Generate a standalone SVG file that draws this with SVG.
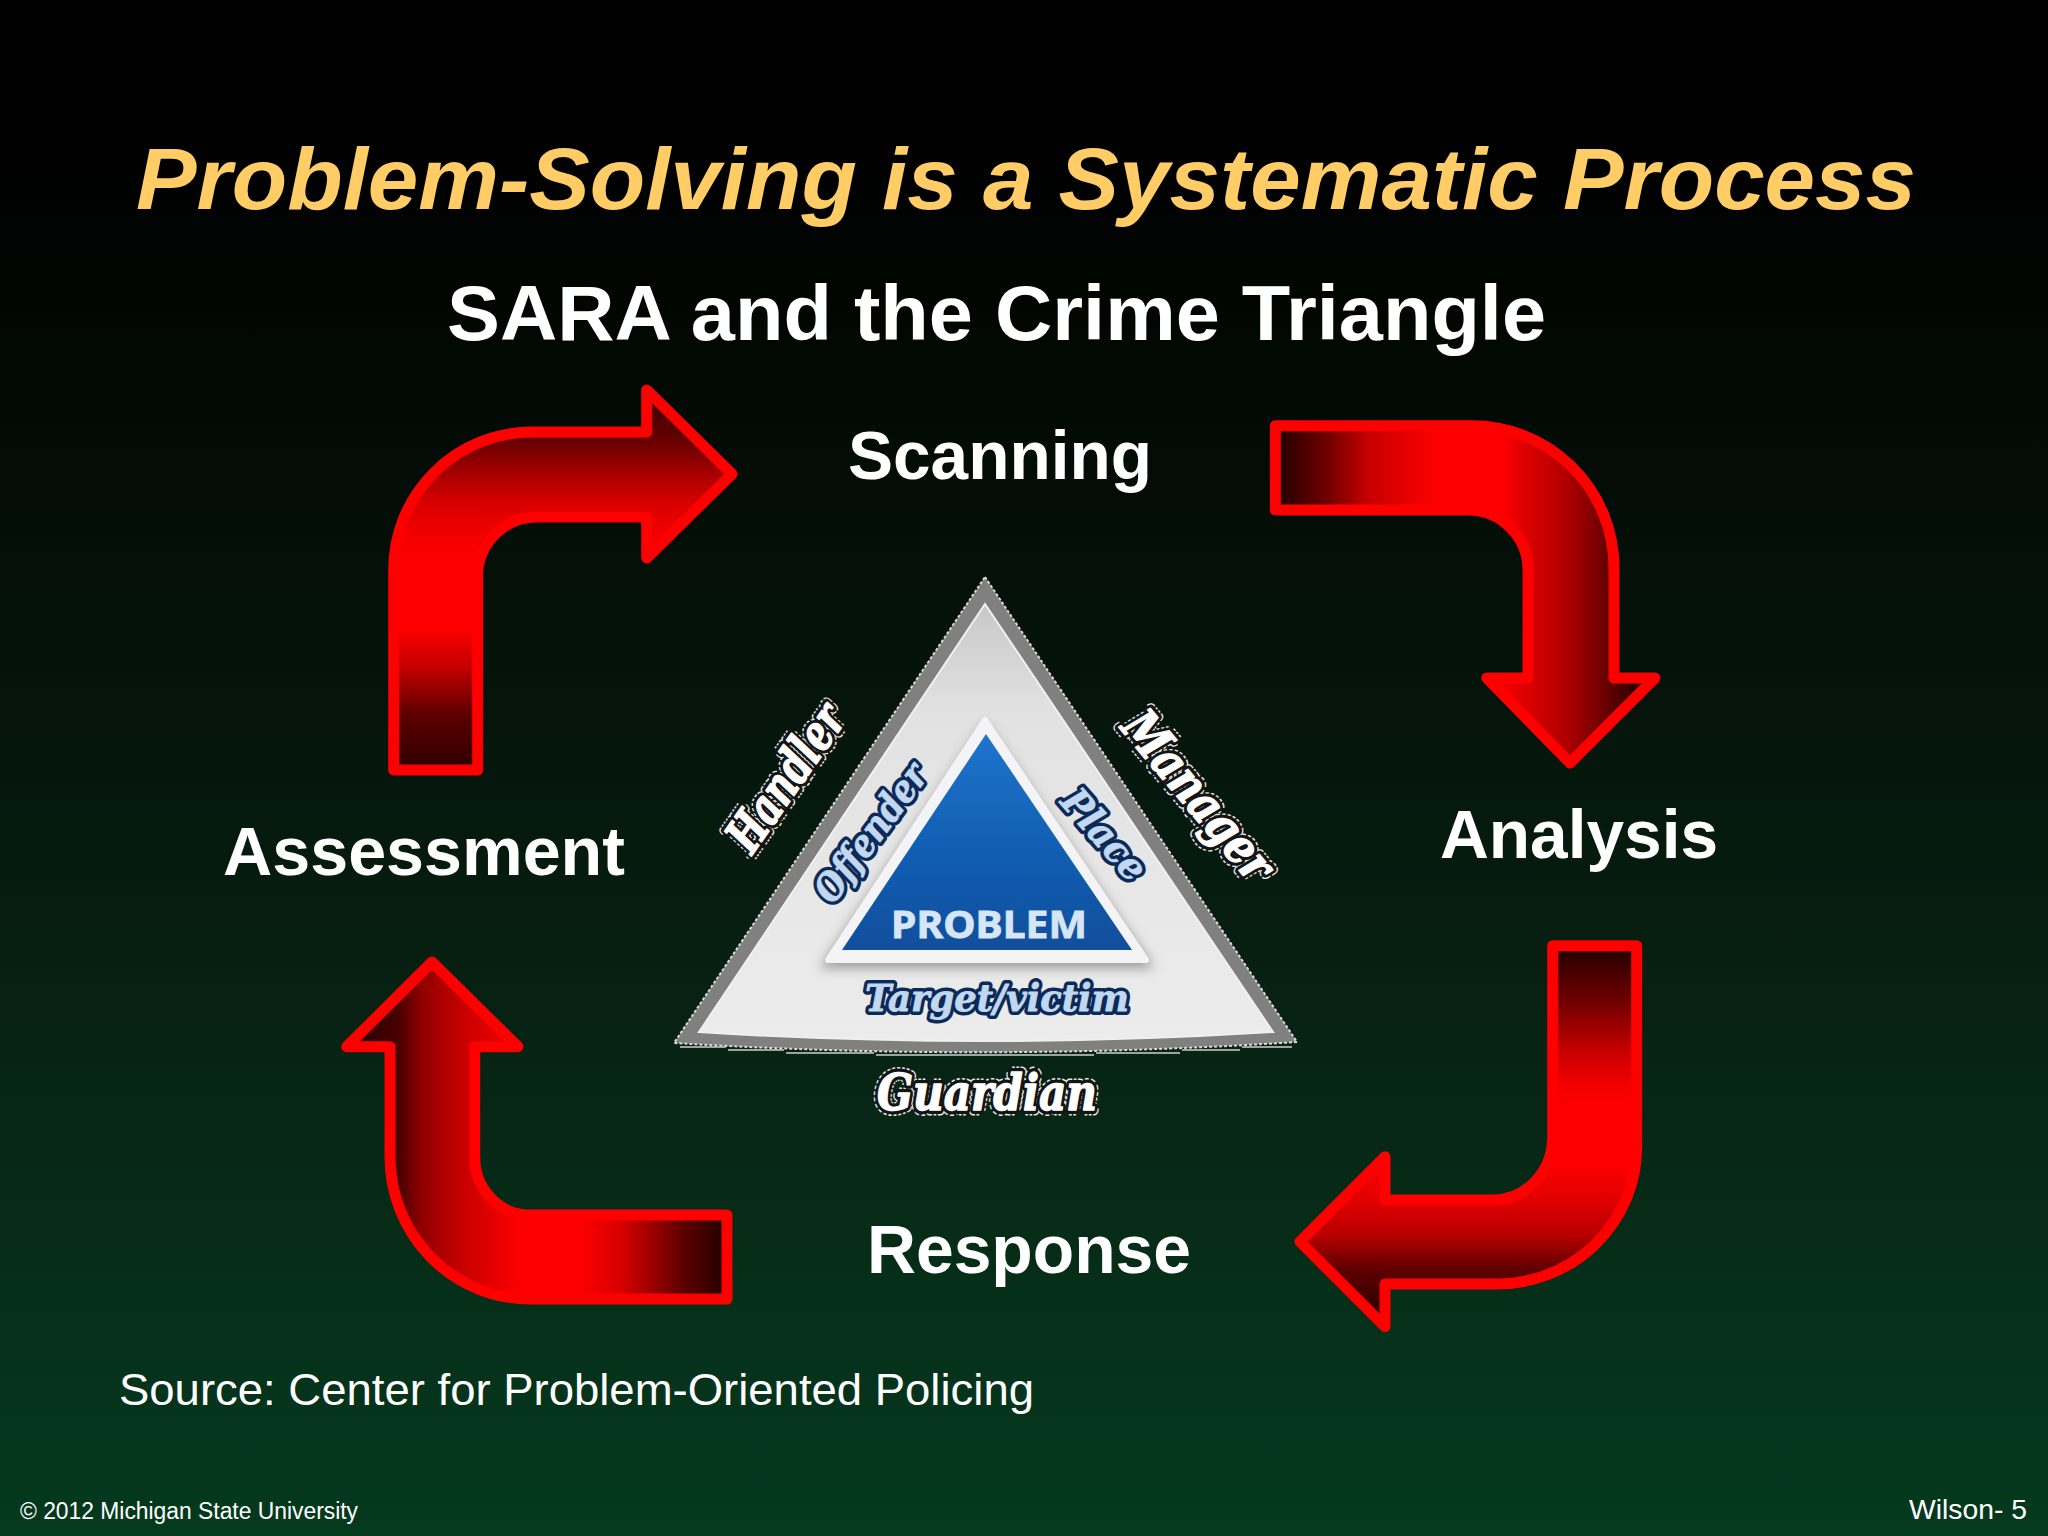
<svg xmlns="http://www.w3.org/2000/svg" width="2048" height="1536" viewBox="0 0 2048 1536">
<defs>
<linearGradient id="bg" x1="0" y1="0" x2="0" y2="1"><stop offset="0" stop-color="#000"/><stop offset="0.08" stop-color="#000"/><stop offset="0.3" stop-color="#030c06"/><stop offset="0.55" stop-color="#061a0e"/><stop offset="0.75" stop-color="#072816"/><stop offset="1" stop-color="#043a1e"/></linearGradient>
<linearGradient id="g1" gradientUnits="userSpaceOnUse" x1="0" y1="385" x2="0" y2="775"><stop offset="0" stop-color="#300000"/><stop offset="0.14" stop-color="#660000"/><stop offset="0.22" stop-color="#a00000"/><stop offset="0.3" stop-color="#d80000"/><stop offset="0.39" stop-color="#f40000"/><stop offset="0.47" stop-color="#f00"/><stop offset="0.62" stop-color="#f00"/><stop offset="0.73" stop-color="#c00000"/><stop offset="0.84" stop-color="#600000"/><stop offset="1" stop-color="#280000"/></linearGradient>
<linearGradient id="g2" gradientUnits="userSpaceOnUse" x1="1275" y1="0" x2="1650" y2="0"><stop offset="0" stop-color="#200000"/><stop offset="0.14" stop-color="#700000"/><stop offset="0.25" stop-color="#c80000"/><stop offset="0.36" stop-color="#e80000"/><stop offset="0.44" stop-color="#f00"/><stop offset="0.6" stop-color="#f00"/><stop offset="0.66" stop-color="#e00000"/><stop offset="0.76" stop-color="#b80000"/><stop offset="0.85" stop-color="#800000"/><stop offset="0.96" stop-color="#300000"/><stop offset="1" stop-color="#200000"/></linearGradient>
<linearGradient id="g3" gradientUnits="userSpaceOnUse" x1="0" y1="950" x2="0" y2="1325"><stop offset="0" stop-color="#280000"/><stop offset="0.14" stop-color="#700000"/><stop offset="0.27" stop-color="#c80000"/><stop offset="0.365" stop-color="#f40000"/><stop offset="0.42" stop-color="#f00"/><stop offset="0.56" stop-color="#f00"/><stop offset="0.67" stop-color="#e00000"/><stop offset="0.76" stop-color="#b80000"/><stop offset="0.85" stop-color="#600000"/><stop offset="1" stop-color="#200000"/></linearGradient>
<linearGradient id="g4" gradientUnits="userSpaceOnUse" x1="345" y1="0" x2="727" y2="0"><stop offset="0" stop-color="#200000"/><stop offset="0.14" stop-color="#480000"/><stop offset="0.2" stop-color="#900000"/><stop offset="0.31" stop-color="#c80000"/><stop offset="0.4" stop-color="#e80000"/><stop offset="0.46" stop-color="#f00"/><stop offset="0.61" stop-color="#f00"/><stop offset="0.72" stop-color="#d80000"/><stop offset="0.8" stop-color="#a00000"/><stop offset="0.88" stop-color="#600000"/><stop offset="1" stop-color="#200000"/></linearGradient>
<linearGradient id="blue" x1="0" y1="0" x2="0" y2="1"><stop offset="0" stop-color="#1f74cc"/><stop offset="0.6" stop-color="#0f5cb0"/><stop offset="1" stop-color="#124f9c"/></linearGradient>
<linearGradient id="light" x1="0" y1="0" x2="0" y2="1"><stop offset="0" stop-color="#c8c8c8"/><stop offset="0.25" stop-color="#e2e2e2"/><stop offset="1" stop-color="#ececec"/></linearGradient>
<filter id="soft" x="-20%" y="-20%" width="140%" height="140%"><feGaussianBlur stdDeviation="6"/></filter>
</defs>
<style>
.a{stroke:#f00;stroke-width:11;stroke-linejoin:round}
text{font-family:"Liberation Sans",Arial,sans-serif}
.h{font-size:68px;font-weight:bold;fill:#fff}
.s{font-family:"DejaVu Serif","Liberation Serif",serif;font-weight:bold;font-style:italic;stroke-linejoin:round;text-anchor:middle}
.o1{fill:none;stroke:#e8e8e8;stroke-width:11;stroke-dasharray:3 2}
.o2{fill:none;stroke:#141414;stroke-width:8}
.o3{fill:#fff;stroke:#fff;stroke-width:1.4}
.b1{fill:none;stroke:#0c2a58;stroke-width:8}
.b2{fill:#c2d8f0;stroke:#c2d8f0;stroke-width:.8}
.e{fill:none;stroke:#cfcfcf;stroke-width:1.5}
</style>
<rect id="background" width="2048" height="1536" fill="url(#bg)"/>
<text id="title" x="136" y="209" font-size="88" font-weight="bold" font-style="italic" fill="#ffcc66" textLength="1780" lengthAdjust="spacingAndGlyphs">Problem-Solving is a Systematic Process</text>
<text id="subtitle" x="447" y="340" font-size="78" font-weight="bold" fill="#fff" textLength="1099" lengthAdjust="spacingAndGlyphs">SARA and the Crime Triangle</text>
<g id="connectors">
<path class="a" fill="url(#g1)" d="M393.7 770V570A138 138 0 0 1 532 432H646.7V390L732 474L646.7 558V517H537A59 59 0 0 0 477.7 576V770Z"/>
<path class="a" fill="url(#g2)" d="M1275.3 425.7H1470A142 142 0 0 1 1614 567V678H1655L1570 763L1486.7 678H1528V570A60 60 0 0 0 1467 510H1275.3Z"/>
<path class="a" fill="url(#g3)" d="M1552.7 945.7H1636.7V1147A140 137 0 0 1 1493 1284H1385V1326.7L1300 1241.7L1385 1156.7V1200H1493A60 63 0 0 0 1552.7 1137Z"/>
<path class="a" fill="url(#g4)" d="M727 1215V1299H530A140 142 0 0 1 390 1157V1046.7H346.7L432 962L518 1046.7H474.7V1157A55 58 0 0 0 527 1215Z"/>
</g>
<g id="node-scanning"><text class="h" x="848" y="479" textLength="304" lengthAdjust="spacingAndGlyphs">Scanning</text></g>
<g id="node-analysis"><text class="h" x="1440" y="858" textLength="278" lengthAdjust="spacingAndGlyphs">Analysis</text></g>
<g id="node-response"><text class="h" x="867" y="1273" textLength="324" lengthAdjust="spacingAndGlyphs">Response</text></g>
<g id="node-assessment"><text class="h" x="223" y="875" textLength="402" lengthAdjust="spacingAndGlyphs">Assessment</text></g>
<g id="crime-triangle">
<path d="M985 577L1297 1042Q985 1062 674 1043Z" fill="#808080" stroke="#d8d8d8" stroke-width="2" stroke-dasharray="3 2" stroke-linejoin="round"/>
<path d="M985 604L1273 1032Q985 1050 699 1032Z" fill="url(#light)" stroke="#f0f0f0" stroke-width="2"/>
<path class="e" d="M680 1047H726M728 1050H784M786 1053H874M876 1055H1094M1096 1053H1180M1182 1050H1240M1242 1047H1292"/>
<path d="M985 722L1154 968H820Z" fill="#808080" filter="url(#soft)" opacity=".75"/>
<path d="M985 720L1146 960H828Z" fill="#f4f4f6" stroke="#f4f4f6" stroke-width="6" stroke-linejoin="round"/>
<path d="M986 734L1132 950H842Z" fill="url(#blue)"/>
<text x="989" y="938" style="font-family:'Noto Sans','Liberation Sans',sans-serif" font-size="38" font-weight="bold" fill="#d6e6f6" stroke="#d6e6f6" stroke-width=".8" text-anchor="middle" textLength="196" lengthAdjust="spacingAndGlyphs">PROBLEM</text>
<g font-size="38">
<text class="s b1" x="997" y="1011" textLength="264" lengthAdjust="spacingAndGlyphs">Target/victim</text>
<text class="s b2" x="997" y="1011" textLength="264" lengthAdjust="spacingAndGlyphs">Target/victim</text>
<g transform="translate(870 832) rotate(-53.5)">
<text class="s b1" x="0" y="14" textLength="162" lengthAdjust="spacingAndGlyphs">Offender</text>
<text class="s b2" x="0" y="14" textLength="162" lengthAdjust="spacingAndGlyphs">Offender</text></g>
<g transform="translate(1105 834) rotate(49)">
<text class="s b1" x="0" y="14" textLength="108" lengthAdjust="spacingAndGlyphs">Place</text>
<text class="s b2" x="0" y="14" textLength="108" lengthAdjust="spacingAndGlyphs">Place</text></g>
</g>
<g font-size="50">
<text class="s o1" x="987" y="1110" textLength="220" lengthAdjust="spacingAndGlyphs">Guardian</text>
<text class="s o2" x="987" y="1110" textLength="220" lengthAdjust="spacingAndGlyphs">Guardian</text>
<text class="s o3" x="987" y="1110" textLength="220" lengthAdjust="spacingAndGlyphs">Guardian</text>
<g transform="translate(785 777) rotate(-55)">
<text class="s o1" x="0" y="18" textLength="167" lengthAdjust="spacingAndGlyphs">Handler</text>
<text class="s o2" x="0" y="18" textLength="167" lengthAdjust="spacingAndGlyphs">Handler</text>
<text class="s o3" x="0" y="18" textLength="167" lengthAdjust="spacingAndGlyphs">Handler</text></g>
<g transform="translate(1199 795) rotate(50)">
<text class="s o1" x="0" y="18" textLength="205" lengthAdjust="spacingAndGlyphs">Manager</text>
<text class="s o2" x="0" y="18" textLength="205" lengthAdjust="spacingAndGlyphs">Manager</text>
<text class="s o3" x="0" y="18" textLength="205" lengthAdjust="spacingAndGlyphs">Manager</text></g>
</g>
</g>
<text id="source" x="119" y="1405" font-size="45" fill="#fff" textLength="915" lengthAdjust="spacingAndGlyphs">Source: Center for Problem-Oriented Policing</text>
<text id="copyright" x="20" y="1519" font-size="23" fill="#fff" textLength="338" lengthAdjust="spacingAndGlyphs">© 2012 Michigan State University</text>
<text id="page" x="1909" y="1519" font-size="28" fill="#fff" textLength="118" lengthAdjust="spacingAndGlyphs">Wilson- 5</text>
</svg>
